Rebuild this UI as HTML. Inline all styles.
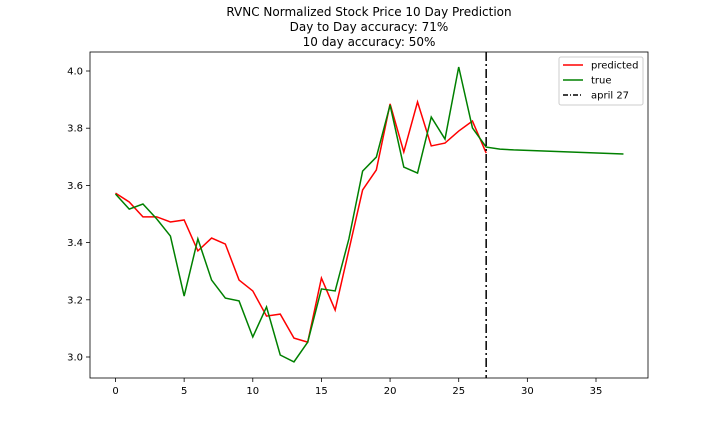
<!DOCTYPE html>
<html><head><meta charset="utf-8"><style>
body{margin:0;background:#fff;font-family:"DejaVu Sans","Liberation Sans",sans-serif}
svg text{font-family:"DejaVu Sans","Liberation Sans",sans-serif}
</style></head><body>
<svg id="chart" width="720" height="432">
<g font-size="12" text-anchor="middle" fill="#000">
<text x="369" y="16">RVNC Normalized Stock Price 10 Day Prediction</text>
<text x="369" y="31">Day to Day accuracy: 71%</text>
<text x="369" y="46">10 day accuracy: 50%</text>
</g>
<g id="plot"></g>
</svg>
<script>
const predX=[0,1,2,3,4,5,6,7,8,9,10,11,12,13,14,15,16,17,18,19,20,21,22,23,24,25,26,27];
const predY=[3.573,3.542,3.490,3.490,3.472,3.479,3.371,3.416,3.395,3.269,3.231,3.143,3.150,3.066,3.052,3.276,3.164,3.374,3.584,3.654,3.885,3.717,3.892,3.738,3.748,3.790,3.825,3.713];
const trueX=[0,1,2,3,4,5,6,7,8,9,10,11,12,13,14,15,16,17,18,19,20,21,22,23,24,25,26,27,28,29,37];
const trueY=[3.570,3.517,3.535,3.483,3.423,3.213,3.413,3.269,3.206,3.196,3.070,3.175,3.007,2.983,3.052,3.238,3.231,3.413,3.650,3.699,3.881,3.664,3.643,3.839,3.762,4.014,3.801,3.734,3.727,3.724,3.710];
const markerX=27;
const xTicks=[0,5,10,15,20,25,30,35];
const yTicks=[3.0,3.2,3.4,3.6,3.8,4.0];
const L=90,R=648,T=52,B=378;
const sx=v=>115.5+v*(596-115.5)/35;
const sy=v=>357-(v-3.0)*286;
const NS="http://www.w3.org/2000/svg";
const g=document.getElementById('plot');
function mk(t,a){const e=document.createElementNS(NS,t);for(const k in a)e.setAttribute(k,a[k]);g.appendChild(e);return e;}
xTicks.forEach(v=>{
 const l=mk('line',{x1:sx(v),x2:sx(v),y1:B,y2:B+4,stroke:'#000','stroke-width':0.8});
 
 
 const t=mk('text',{x:sx(v),y:B+16,'font-size':10,'text-anchor':'middle'});t.textContent=v;
 
 
});
yTicks.forEach(v=>{
 const l=mk('line',{x1:L-4,x2:L,y1:sy(v),y2:sy(v),stroke:'#000','stroke-width':0.8});
 
 
 const t=mk('text',{x:L-7,y:sy(v)+3.5,'font-size':10,'text-anchor':'end'});t.textContent=v.toFixed(1);
 
 
});
const pl=mk('polyline',{points:predX.map((x,i)=>sx(x)+','+sy(predY[i])).join(' '),fill:'none',stroke:'#ff0000','stroke-width':1.5});


const tl=mk('polyline',{points:trueX.map((x,i)=>sx(x)+','+sy(trueY[i])).join(' '),fill:'none',stroke:'#008000','stroke-width':1.5});


const vl=mk('line',{x1:sx(markerX),x2:sx(markerX),y1:T,y2:B,stroke:'#000','stroke-width':1.5,'stroke-dasharray':'9,3,2,3'});


const fr=mk('rect',{x:L,y:T,width:R-L,height:B-T,fill:'none',stroke:'#000','stroke-width':0.8});


const lg=mk('rect',{x:559,y:57,width:84,height:48,rx:2,fill:'#fff',stroke:'#ccc','stroke-width':1});


[['predicted','#ff0000',null],['true','#008000',null],['april 27','#000','9,3,2,3']].forEach((e,i)=>{
 const y=65+i*15;
 const a={x1:563,x2:583,y1:y,y2:y,stroke:e[1],'stroke-width':1.5};if(e[2])a['stroke-dasharray']='5,2,1,2';
 const l=mk('line',a);
 
 
 const t=mk('text',{x:591,y:y+3.5,'font-size':10});t.textContent=e[0];
 
 
});
</script>
</body></html>
